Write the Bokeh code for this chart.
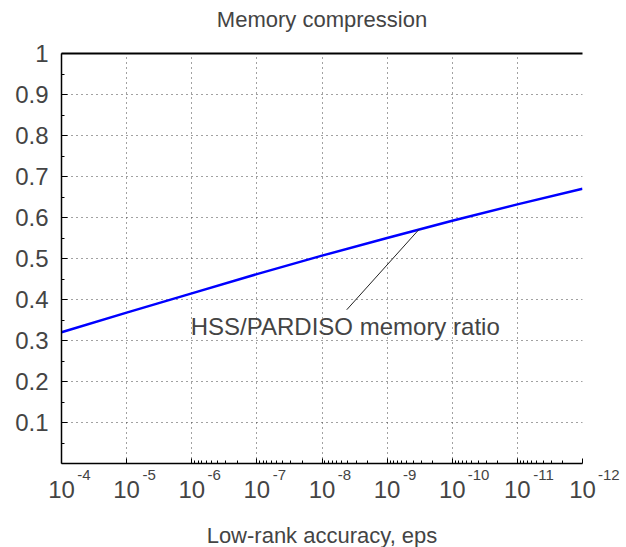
from bokeh.plotting import figure
from bokeh.models import Range1d, FixedTicker, LinearAxis, LogAxis, Label
from bokeh.embed import file_html
from bokeh.resources import INLINE

# data
eps = [1e-4, 1e-5, 1e-6, 1e-7, 1e-8, 1e-9, 1e-10, 1e-11, 1e-12]
ratio = [0.320, 0.368, 0.415, 0.462, 0.507, 0.550, 0.592, 0.632, 0.670]

x_ticks = [1e-4, 1e-5, 1e-6, 1e-7, 1e-8, 1e-9, 1e-10, 1e-11, 1e-12]
x_tick_base = "10"
x_tick_exponents = ["-4", "-5", "-6", "-7", "-8", "-9", "-10", "-11", "-12"]
y_ticks = [0.1, 0.2, 0.3, 0.4, 0.5, 0.6, 0.7, 0.8, 0.9, 1.0]
y_tick_labels = ["0.1", "0.2", "0.3", "0.4", "0.5", "0.6", "0.7", "0.8", "0.9", "1"]

title_text = "Memory compression"
x_label = "Low-rank accuracy, eps"
annot_text = "HSS/PARDISO memory ratio"
annot_text_pos = (10**-5.985, 0.334)
annot_from = (10**-8.38, 0.375)
annot_to = (10**-9.49, 0.571)

FONT = "Liberation Sans"
BASE_PX = 24
EXP_PX = 15
EN_SPACE = "\u2002"
EN_W = 0.5 * EXP_PX

p = figure(width=622, height=543, x_axis_type="log",
           x_range=Range1d(1e-4, 1e-12), y_range=Range1d(0, 1),
           output_backend="svg", toolbar_location=None,
           frame_width=521, frame_height=410,
           min_border_left=61, min_border_right=40, min_border_top=53, min_border_bottom=80)
p.outline_line_color = None
p.background_fill_color = "white"
p.border_fill_color = "white"

# minor ticks only from 1e-6 onward
minor = []
for d in range(6, 12):
    for m in range(2, 10):
        minor.append(m * 10.0 ** (-(d + 1)))

xa = p.xaxis[0]
xa.ticker = FixedTicker(ticks=x_ticks, minor_ticks=minor)
xa.major_label_overrides = {t: "" for t in x_ticks}
xa.major_label_standoff = 0
xa.major_label_text_font_size = "1px"
xa.major_tick_in = 5
xa.major_tick_out = 0
xa.minor_tick_in = 3
xa.minor_tick_out = 0
xa.axis_line_width = 1.5


def padded(e):
    # labels are centred on the tick: a leading pad of width 2*D moves the
    # visible exponent D pixels to the right, just past the centred "10"
    w_base = 2 * 0.556 * BASE_PX
    w_exp = (0.333 + 0.556 * (len(e) - 1)) * EXP_PX
    shift = w_base / 2 + 1 + w_exp / 2
    n = int(round(2 * shift / EN_W))
    return EN_SPACE * n + e


# exponent row (superscripts)
exp_axis = LogAxis(ticker=FixedTicker(ticks=x_ticks),
                   major_label_overrides={t: padded(e) for t, e in zip(x_ticks, x_tick_exponents)},
                   axis_line_color=None, major_tick_line_color=None, minor_tick_line_color=None,
                   major_label_text_font=FONT, major_label_text_font_size=f"{EXP_PX}px",
                   major_label_standoff=2, major_tick_in=0, major_tick_out=0,
                   minor_tick_in=0, minor_tick_out=0)
p.add_layout(exp_axis, "below")

# base row "10", centred on each decade
base_axis = LogAxis(ticker=FixedTicker(ticks=x_ticks),
                    major_label_overrides={t: x_tick_base for t in x_ticks},
                    axis_line_color=None, major_tick_line_color=None, minor_tick_line_color=None,
                    major_label_text_font=FONT, major_label_text_font_size=f"{BASE_PX}px",
                    major_label_standoff=-5, major_tick_in=0, major_tick_out=0,
                    minor_tick_in=0, minor_tick_out=0,
                    axis_label=x_label, axis_label_text_font=FONT,
                    axis_label_text_font_size="22px", axis_label_text_font_style="normal",
                    axis_label_standoff=22)
p.add_layout(base_axis, "below")

ya = p.yaxis[0]
ya.ticker = FixedTicker(ticks=y_ticks, minor_ticks=[0.05 + 0.1 * i for i in range(10)])
ya.major_label_overrides = {t: l for t, l in zip(y_ticks, y_tick_labels)}
ya.major_label_text_font = FONT
ya.major_label_text_font_size = "24px"
ya.major_label_standoff = 13
ya.major_tick_in = 6
ya.major_tick_out = 0
ya.minor_tick_in = 3
ya.minor_tick_out = 0
ya.axis_line_width = 1.5

# top border line; its axis label serves as the chart title
top = LinearAxis(ticker=FixedTicker(ticks=[]), major_label_text_font_size="0px",
                 major_tick_line_color=None, minor_tick_line_color=None, axis_line_width=2,
                 axis_label=title_text, axis_label_text_font=FONT,
                 axis_label_text_font_size="22px", axis_label_text_font_style="normal",
                 axis_label_standoff=22)
p.add_layout(top, "above")

for g in (p.xgrid[0], p.ygrid[0]):
    g.grid_line_color = "#444444"
    g.grid_line_dash = "1 4"
    g.grid_line_width = 1
p.xgrid[0].ticker = FixedTicker(ticks=x_ticks)
p.ygrid[0].ticker = FixedTicker(ticks=y_ticks)

p.line(eps, ratio, line_color="#0000ff", line_width=2.5)

p.segment(x0=[annot_from[0]], y0=[annot_from[1]], x1=[annot_to[0]], y1=[annot_to[1]],
          line_color="#222222", line_width=1)
p.add_layout(Label(x=annot_text_pos[0], y=annot_text_pos[1], text=annot_text,
                   text_font=FONT, text_font_size="24px", text_baseline="middle",
                   text_align="left"))

open("out.html", "w").write(file_html(p, INLINE))
